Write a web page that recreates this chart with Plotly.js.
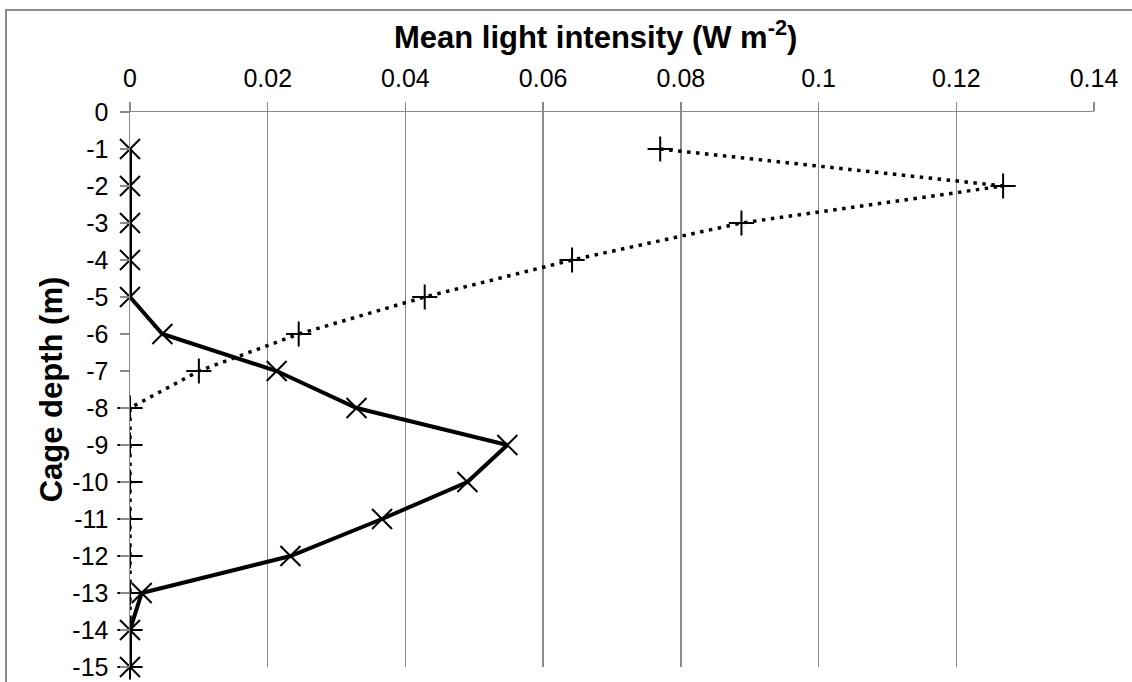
<!DOCTYPE html>
<html>
<head>
<meta charset="utf-8">
<script src="https://cdn.plot.ly/plotly-3.0.1.min.js"></script>
<style>
html,body{margin:0;padding:0;background:#fff;}
#chart{width:1132px;height:682px;}
</style>
</head>
<body>
<div id="chart"></div>
<script>
// Data
const depth = [-1, -2, -3, -4, -5, -6, -7, -8, -9, -10, -11, -12, -13, -14, -15];
const seriesDotted = [0.077, 0.1268, 0.0888, 0.0642, 0.0428, 0.0245, 0.0100, 0, 0, 0, 0, 0, 0, 0, 0];
const seriesSolid = [0, 0, 0, 0, 0, 0.0047, 0.0213, 0.0329, 0.0548, 0.049, 0.0366, 0.0233, 0.0017, 0, 0];
const xTickVals = [0, 0.02, 0.04, 0.06, 0.08, 0.1, 0.12, 0.14];
const xTickText = ['0', '0.02', '0.04', '0.06', '0.08', '0.1', '0.12', '0.14'];
const yTickVals = [0, -1, -2, -3, -4, -5, -6, -7, -8, -9, -10, -11, -12, -13, -14, -15];
const yTickText = ['0', '-1', '-2', '-3', '-4', '-5', '-6', '-7', '-8', '-9', '-10', '-11', '-12', '-13', '-14', '-15'];
const xTitle = '<b>Mean light intensity (W m<sup>-2</sup>)</b>';
const yTitle = '<b>Cage depth (m)</b>';

const FONT = 'Liberation Sans, Arial, sans-serif';
const GRID = '#8a8a8a';

const traces = [
  {
    x: seriesDotted, y: depth, type: 'scatter', mode: 'lines+markers',
    cliponaxis: false, showlegend: false,
    line: {color: '#000', width: 3.5, dash: '3.5px,5.5px'},
    marker: {symbol: 'cross-thin-open', size: 18, color: '#000', line: {color: '#000', width: 2}}
  },
  {
    x: seriesSolid, y: depth, type: 'scatter', mode: 'lines+markers',
    cliponaxis: false, showlegend: false,
    line: {color: '#000', width: 4},
    marker: {symbol: 'x-thin-open', size: 20, color: '#000', line: {color: '#000', width: 2}}
  }
];

const layout = {
  width: 1132, height: 682,
  margin: {l: 130, r: 38, t: 112, b: 15},
  paper_bgcolor: '#fff', plot_bgcolor: '#fff',
  font: {family: FONT, color: '#000', size: 25},
  showlegend: false,
  title: {
    text: xTitle,
    font: {family: FONT, size: 31, color: '#000'},
    xref: 'paper', x: 0.483, xanchor: 'center',
    yref: 'container', y: 1 - 37 / 682, yanchor: 'middle'
  },
  xaxis: {
    side: 'top', range: [0, 0.14], autorange: false,
    tickmode: 'array', tickvals: xTickVals, ticktext: xTickText,
    ticks: 'outside', ticklen: 9, tickwidth: 1.5, tickcolor: GRID,
    showgrid: true, gridcolor: GRID, gridwidth: 1.5,
    showline: true, linecolor: GRID, linewidth: 1.5,
    zeroline: false,
    ticklabelstandoff: 5,
    tickfont: {family: FONT, size: 25, color: '#000'}
  },
  yaxis: {
    range: [-15, 0], autorange: false,
    tickmode: 'array', tickvals: yTickVals, ticktext: yTickText,
    ticks: 'outside', ticklen: 9, tickwidth: 1.5, tickcolor: GRID,
    showgrid: false,
    showline: true, linecolor: GRID, linewidth: 1.5,
    zeroline: false,
    ticklabelstandoff: 6,
    tickfont: {family: FONT, size: 25, color: '#000'},
    title: {text: yTitle, font: {family: FONT, size: 31, color: '#000'}, standoff: 0}
  },
  shapes: [{
    type: 'rect', xref: 'paper', yref: 'paper',
    x0: (6 - 130) / 964, x1: 1.2, y0: -0.2, y1: (667 - 10) / 555,
    line: {color: '#8c8c8c', width: 2}, fillcolor: 'rgba(0,0,0,0)', layer: 'below'
  }]
};

Plotly.newPlot('chart', traces, layout, {staticPlot: true, displayModeBar: false});
</script>
</body>
</html>
